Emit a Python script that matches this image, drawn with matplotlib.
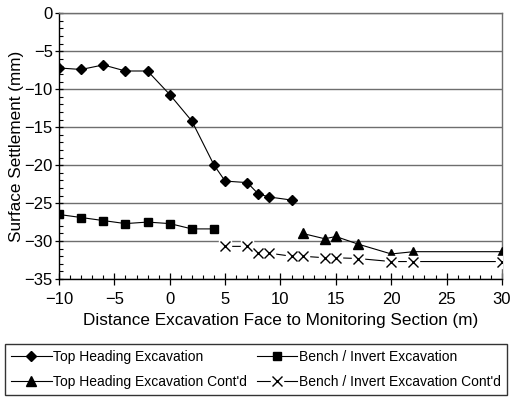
import matplotlib.pyplot as plt
import numpy as np

plt.rcParams["font.family"] = ["Liberation Sans", "DejaVu Sans"]

# Top heading excavation
th_x = [-10, -8, -6, -4, -2, 0, 2, 4, 5, 7, 8, 9, 11]
th_y = [-7.2, -7.4, -6.8, -7.6, -7.6, -10.7, -14.2, -20.0, -22.1, -22.3, -23.8, -24.2, -24.6]

# Bench / invert excavation
bi_x = [-10, -8, -6, -4, -2, 0, 2, 4]
bi_y = [-26.5, -26.9, -27.3, -27.7, -27.5, -27.7, -28.4, -28.4]

# Top heading excavation cont'd
thc_x = [12, 14, 15, 17, 20, 22, 30]
thc_y = [-29.0, -29.7, -29.4, -30.4, -31.7, -31.4, -31.4]

# Bench / invert excavation cont'd
bic_x = [5, 7, 8, 9, 11, 12, 14, 15, 17, 20, 22, 30]
bic_y = [-30.7, -30.7, -31.6, -31.6, -32.0, -32.0, -32.2, -32.2, -32.3, -32.7, -32.7, -32.7]

x_ticks = [-10, -5, 0, 5, 10, 15, 20, 25, 30]
y_ticks = [0, -5, -10, -15, -20, -25, -30, -35]

fig = plt.figure(figsize=(5.12, 3.97), dpi=100)
ax = fig.add_axes([0.1152, 0.2972, 0.8653, 0.6693])

lw = 0.8
line_kw = dict(color="black", linewidth=lw, zorder=3)

h_th, = ax.plot(th_x, th_y, marker="D", markersize=5, label="Top Heading Excavation", **line_kw)
h_bi, = ax.plot(bi_x, bi_y, marker="s", markersize=6.2, label="Bench / Invert Excavation", **line_kw)
h_thc, = ax.plot(thc_x, thc_y, marker="^", markersize=7, label="Top Heading Excavation Cont'd",
                 **line_kw)
# crosses mask the line under them with a white patch
h_bic_line, = ax.plot(bic_x, bic_y, color="black", linewidth=lw, zorder=3)
h_bic_mask, = ax.plot(bic_x, bic_y, linestyle="none", marker="s", markersize=8.5,
                      markerfacecolor="white", markeredgecolor="white", zorder=4)
h_bic_x, = ax.plot(bic_x, bic_y, linestyle="none", marker="x", markersize=7.5,
                   markeredgewidth=1.0, color="black", zorder=5)

ax.set_xlim(-10, 30)
ax.set_ylim(-35, 0)
ax.set_xticks(x_ticks)
ax.set_yticks(y_ticks)
ax.set_xticks(np.arange(-10, 31, 1), minor=True)
ax.set_yticks(np.arange(-35, 1, 1), minor=True)
ax.grid(axis="y", which="major", color="#6e6e6e", linewidth=1.0, zorder=1)
ax.set_axisbelow(True)

ax.tick_params(which="major", direction="inout", width=0.9, labelsize=12, colors="black")
ax.tick_params(axis="x", which="major", length=8, pad=5)
ax.tick_params(axis="y", which="major", length=6, pad=1.5)
ax.tick_params(which="minor", direction="in", length=3, width=0.8)

for side in ["top", "right"]:
    ax.spines[side].set_color("#6e6e6e")
    ax.spines[side].set_linewidth(1.0)
for side in ["left", "bottom"]:
    ax.spines[side].set_color("black")
    ax.spines[side].set_linewidth(1.0)

ax.set_xlabel("Distance Excavation Face to Monitoring Section (m)", fontsize=12.3, labelpad=4.5)
ax.set_ylabel("Surface Settlement (mm)", fontsize=12.3, labelpad=0.5)

handles = [h_th, h_thc, h_bi, (h_bic_line, h_bic_mask, h_bic_x)]
labels = ["Top Heading Excavation", "Top Heading Excavation Cont'd",
          "Bench / Invert Excavation", "Bench / Invert Excavation Cont'd"]
leg = fig.legend(handles, labels, ncol=2, loc="lower left",
                 bbox_to_anchor=(5 / 512, 2 / 397, 502 / 512, 54 / 397), mode="expand",
                 fontsize=10, frameon=True, fancybox=False, edgecolor="black",
                 handlelength=2.9, handletextpad=0.1, columnspacing=0.3,
                 labelspacing=0.75, borderpad=0.45, borderaxespad=0)
leg.get_frame().set_linewidth(1.0)

fig.savefig("out.png", dpi=100)
